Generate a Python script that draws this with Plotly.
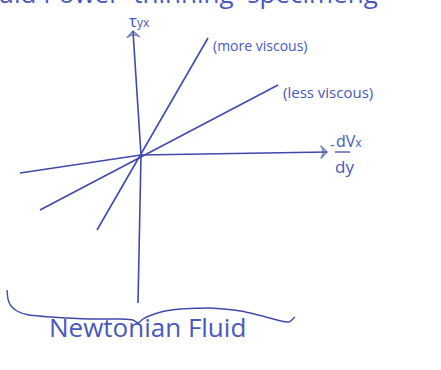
import plotly.graph_objects as go

INK = "rgb(62,74,172)"
TEXT_INK = "rgb(72,88,190)"
FONT = "Open Sans"

# Shear-rate / shear-stress sketch for Newtonian fluids (origin at 0, 0)
more_viscous_rate = [-44, 67]
more_viscous_stress = [-75, 117]

less_viscous_rate = [-101, 137]
less_viscous_stress = [-55, 70]

# hand-drawn axes
rate_axis_x = [-121, 0, 186]
rate_axis_y = [-18, 0, 3]
stress_axis_x = [-3, 0, -8]
stress_axis_y = [-148, 0, 124]

# curly brace under the sketch
brace_x = [-134, -133, -130, -124, -112, -90, -50, -20, -8, -3, 2, 8, 20, 40, 70, 100, 125, 140, 148, 154]
brace_y = [-135, -144, -151, -156, -160, -162, -164, -164, -165, -168, -164, -161, -157, -154, -153, -156, -162, -166, -167, -162]

fig = go.Figure()

line_style = dict(color=INK, width=1.6)

fig.add_trace(go.Scatter(x=more_viscous_rate, y=more_viscous_stress, mode="lines",
                         line=line_style, hoverinfo="skip"))
fig.add_trace(go.Scatter(x=less_viscous_rate, y=less_viscous_stress, mode="lines",
                         line=line_style, hoverinfo="skip"))

arrow_marker = lambda n: dict(symbol=["circle"] * (n - 1) + ["arrow-wide-open"],
                              size=[0] * (n - 1) + [9], angleref="previous",
                              color=INK, line=dict(color=INK, width=1.5))

fig.add_trace(go.Scatter(x=rate_axis_x, y=rate_axis_y, mode="lines+markers",
                         line=line_style, marker=arrow_marker(len(rate_axis_x)),
                         hoverinfo="skip", cliponaxis=False))
fig.add_trace(go.Scatter(x=stress_axis_x, y=stress_axis_y, mode="lines+markers",
                         line=line_style, marker=arrow_marker(len(stress_axis_x)),
                         hoverinfo="skip", cliponaxis=False))
fig.add_trace(go.Scatter(x=brace_x, y=brace_y, mode="lines",
                         line=dict(color=INK, width=1.4, shape="spline", smoothing=0.5),
                         hoverinfo="skip"))

# fraction bar of -dVx/dy
fig.add_trace(go.Scatter(x=[194, 209], y=[3, 3], mode="lines",
                         line=dict(color=INK, width=1.3), hoverinfo="skip"))


def label(x, y, text, size, xanchor="left", yanchor="middle", xref="x", yref="y"):
    fig.add_annotation(x=x, y=y, xref=xref, yref=yref, text=text, showarrow=False,
                       xanchor=xanchor, yanchor=yanchor,
                       font=dict(family=FONT, size=size, color=TEXT_INK))


label(70, 110, "(more viscous)", 14)
label(140, 63, "(less viscous)", 15)
label(-14, 135, "τ<span style='font-size:12px'>yx</span>", 17)
label(187, 11, "-", 14)
label(193, 14, "dV<span style='font-size:12px'>x</span>", 16)
label(192, -11, "dy", 17)
label(6, -172, "Newtonian Fluid", 26, xanchor="center")
# heading line running off the top edge
label(-0.01, 0.966, "uid Power  thinning  specimeng", 26,
      yanchor="bottom", xref="paper", yref="paper")

fig.update_layout(
    width=441, height=370,
    margin=dict(l=0, r=0, t=0, b=0),
    paper_bgcolor="white", plot_bgcolor="white",
    showlegend=False,
    xaxis=dict(range=[-141, 300], visible=False, fixedrange=True),
    yaxis=dict(range=[-215, 155], visible=False, fixedrange=True),
)

fig.write_html("out.html")
